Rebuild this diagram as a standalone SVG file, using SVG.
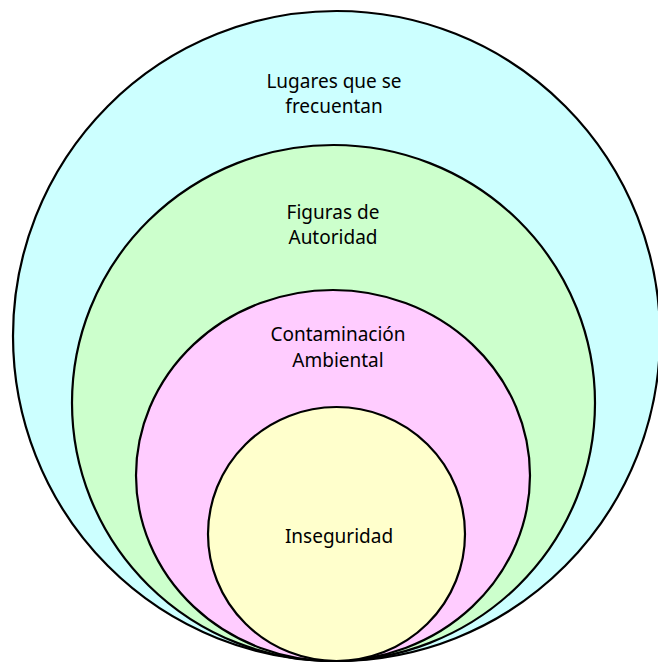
<svg xmlns="http://www.w3.org/2000/svg" width="658" height="666" viewBox="0 0 658 666">
<style>
.c{stroke:#000;stroke-width:2.2}
.t{font-family:"Noto Sans","Open Sans","Liberation Sans",sans-serif;font-size:19px;fill:#000;text-anchor:middle}
</style>
<rect width="658" height="666" fill="#fff"/>
<g id="lugares">
<ellipse class="c" cx="336.5" cy="336" rx="323.5" ry="325" fill="#CCFFFF"/>
<text class="t" x="334" y="88">Lugares que se</text>
<text class="t" x="334" y="113">frecuentan</text>
</g>
<g id="figuras">
<ellipse class="c" cx="333.5" cy="403" rx="261.5" ry="258" fill="#CCFFCC"/>
<text class="t" x="333" y="219">Figuras de</text>
<text class="t" x="333" y="244">Autoridad</text>
</g>
<g id="contaminacion">
<ellipse class="c" cx="333" cy="475.5" rx="197" ry="185.5" fill="#FFCCFF"/>
<text class="t" x="338" y="341">Contaminación</text>
<text class="t" x="338" y="367">Ambiental</text>
</g>
<g id="inseguridad">
<ellipse class="c" cx="336.5" cy="534" rx="128.5" ry="127" fill="#FFFFCC"/>
<text class="t" x="339" y="543">Inseguridad</text>
</g>
<g id="connectors"/>
</svg>
